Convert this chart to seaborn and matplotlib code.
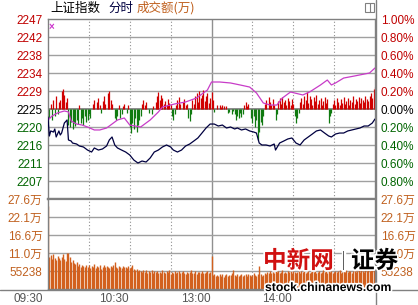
import numpy as np
import pandas as pd
import seaborn as sns
import matplotlib
matplotlib.use("Agg")
import matplotlib.pyplot as plt
from matplotlib import patheffects as pe, transforms as mtrans
from matplotlib.lines import Line2D
from matplotlib.patches import Rectangle

# ---------------- data ----------------
# index line (minute from 09:30 in trading time, % change vs. previous close)
price_min = [0, 1, 2, 4, 5, 6, 8, 9, 10, 12, 14, 15, 17, 18, 21, 23, 26, 29, 32, 34, 37, 40, 43, 45, 47,
             49, 51, 54, 57, 60, 63, 66, 69, 72, 75, 78, 81, 84, 87, 90, 92, 95, 98, 101, 104, 107, 110,
             113, 116, 119, 122, 125, 128, 131, 134, 137, 139, 142, 145, 148, 151, 153, 155, 157, 160,
             163, 166, 167, 170, 173, 176, 179, 182, 185, 188, 191, 194, 197, 200, 203, 206, 208, 211,
             214, 217, 220, 223, 226, 229, 232, 235, 238, 240]
price_pct = [-0.089, -0.300, -0.244, -0.256, -0.222, -0.311, -0.244, -0.289, -0.267, -0.156, -0.122,
             -0.344, -0.356, -0.378, -0.389, -0.411, -0.422, -0.456, -0.478, -0.433, -0.456, -0.444,
             -0.411, -0.344, -0.311, -0.400, -0.433, -0.456, -0.478, -0.511, -0.567, -0.600, -0.578,
             -0.589, -0.544, -0.478, -0.456, -0.422, -0.400, -0.422, -0.456, -0.478, -0.456, -0.411,
             -0.389, -0.356, -0.322, -0.267, -0.211, -0.167, -0.167, -0.189, -0.178, -0.211, -0.200,
             -0.222, -0.211, -0.233, -0.222, -0.244, -0.256, -0.267, -0.378, -0.400, -0.400, -0.411,
             -0.389, -0.456, -0.378, -0.356, -0.333, -0.322, -0.378, -0.400, -0.344, -0.311, -0.278,
             -0.244, -0.233, -0.267, -0.300, -0.311, -0.278, -0.267, -0.267, -0.244, -0.233, -0.222,
             -0.211, -0.189, -0.189, -0.156, -0.111]

# non-weighted index line
avg_min = [0, 3, 7, 12, 15, 17, 21, 25, 29, 34, 38, 43, 47, 51, 56, 60, 68, 75, 81, 84, 93, 101, 109,
           117, 120, 126, 134, 141, 148, 153, 158, 163, 168, 172, 178, 187, 192, 200, 205, 208, 211,
           217, 225, 236, 240]
avg_pct = [-0.122, -0.078, -0.044, -0.022, -0.033, -0.133, -0.167, -0.178, -0.200, -0.233, -0.233,
           -0.211, -0.167, -0.122, -0.100, -0.178, -0.200, -0.122, -0.033, 0.022, 0.056, 0.078, 0.122,
           0.211, 0.300, 0.300, 0.289, 0.267, 0.244, 0.178, 0.067, 0.044, 0.044, 0.122, 0.189, 0.156,
           0.189, 0.267, 0.322, 0.267, 0.289, 0.344, 0.367, 0.400, 0.456]

# buy/sell strength bars per minute (units of 0.01 %)
power = ([-16, -10, 6, -12, 10, -8, 14, -5, 8]
         + [10, 20, 22, 16, 8, 12]
         + [-18, -20, -14, -22, -16, -19, -12, -17, 5, -15, -10, -18, -8, -14, -12, -6, -10]
         + [0, 6, 10, 0, 8, 12, 4, -4, 9, 15, 6, 0, 18, 20, 10, 6, 0]
         + [-10, -12, -8, 4, -10, -6, 3]
         + [6, 0, -4, 5]
         + [-20, -27, -15, -22, -10, -25, -18, -12, -8]
         + [6, 10, 4, 8, 0]
         + [-4, 0, -5, 3, 0]
         + [8, 14, 19, 10, 16, 12, 6, 9, 4, 11, 7, 5]
         + [-8, -12, -6]
         + [5, 10, 13, 6, 0, 8, 11, 4, 6]
         + [-10, -13, -6]
         + [10, 6, 15, 18, 8, 20, 12, 16, 21, 9, 14, 18, 7, 12, 19, 10]
         + [-3, 0, 4, 0]
         + [4, 2, 5, 3, 0, 3]
         + [-4, -3, 0, -5, -2]
         + [-6, -12, -8, -10, -4, -9, -5]
         + [5, 8, 3, 6, 0]
         + [-10, -15, -8, -20, -12, -34, -25, -14, -18, -8]
         + [6, 10, 0, 13, 8, 5, 11, 4]
         + [-12, -6]
         + [9, 12, 6, 13, 8, 10, 5, 12, 9, 4, 11, 6]
         + [-8, -15, -10, -4]
         + [8, 12, 6, 15, 10, 19, 7, 14, 11, 5, 13, 9, 16, 6, 10, 12, 4, 9, 13, 7, 11]
         + [-15, -8, -4]
         + [6, 10, 5, 12, 8, 4, 11, 7, 13, 6, 9, 12, 5, 10, 8, 14, 6, 11, 9, 13, 7, 12, 10, 8, 15,
            11, 9, 14, 18, 12, 22, 24])

# turnover per minute (万 yuan)
volume = ([25.5]
          + [9.8, 10.5, 9.2, 10.8, 9.6, 8.9, 10.2, 9.4, 8.8, 9.9, 10.6, 9.1, 8.6, 10.9, 11.2, 9.7]
          + [8.4, 9.0, 8.1, 7.6, 8.3, 7.2, 7.8, 6.9, 7.5, 7.0, 6.6, 7.3]
          + [6.8, 7.4, 6.5, 7.1, 6.9, 7.6, 6.4, 7.0, 6.7, 7.3, 6.2, 6.9, 7.5, 6.6, 7.2, 6.8, 6.3, 7.0,
             6.7, 7.4, 8.3, 6.9, 6.5, 7.1, 6.8, 6.4, 7.2, 6.6, 6.9, 6.3, 7.0, 6.5, 6.8, 7.3]
          + [6.2, 5.8, 6.0, 5.4, 5.9, 5.6, 5.1, 5.7, 5.3, 5.8, 5.0, 5.5, 5.2, 5.9, 4.9, 5.4, 5.1, 5.6,
             4.8, 5.3, 5.0, 5.7, 5.2, 4.9, 5.5, 5.1, 5.8, 4.7, 5.3, 5.0, 5.4, 4.9, 5.2, 5.6, 4.8, 5.1,
             5.5, 5.0, 4.6, 5.3, 4.9, 5.2, 5.7, 4.8, 5.0, 5.4, 4.7, 5.1, 5.3, 4.9, 5.6, 5.0, 4.8, 5.2,
             5.5, 4.9, 5.1]
          + [10.1]
          + [4.2, 4.6, 3.9, 4.4, 4.1, 4.7, 4.0, 4.5, 3.8, 4.3, 4.6, 4.0, 4.4, 4.2, 4.8, 5.8, 4.3, 4.1,
             4.5, 3.9, 4.4, 4.7, 4.0, 4.3, 4.6, 4.1, 4.5, 4.2, 3.9, 4.4, 4.8, 4.3, 4.0, 4.6, 7.1, 4.5,
             4.1, 4.4, 4.9, 4.6]
          + [5.2, 4.9, 5.5, 5.0, 5.3, 4.8, 5.6, 5.1, 5.4, 4.9, 5.2, 5.7, 5.0, 5.3, 4.8, 5.5, 5.1, 5.4,
             5.0, 5.6, 5.2, 4.9, 5.3, 5.5, 5.0, 5.4, 5.1, 5.7, 4.9, 5.2, 5.5, 5.0, 5.3, 5.6, 5.1, 5.4,
             4.9, 5.2, 5.5, 5.0, 5.3, 5.7, 5.1, 5.4, 5.0, 5.6, 5.2, 5.5, 4.9, 5.3, 5.6, 5.1, 5.4, 5.8,
             5.0, 5.3, 5.5, 5.2, 5.7, 5.1, 5.4, 5.6, 5.0, 5.5, 5.8, 5.2, 5.4, 5.7, 5.3, 5.9, 5.5, 5.2,
             5.8, 5.6, 6.0, 5.4, 5.9, 6.2, 5.7, 6.5])

pct_ticks = [1.0, 0.8, 0.6, 0.4, 0.2, 0.0, -0.2, -0.4, -0.6, -0.8]
price_labels = ["2247", "2242", "2238", "2234", "2229", "2225", "2220", "2216", "2211", "2207"]
pct_labels = ["1.00%", "0.80%", "0.60%", "0.40%", "0.20%", "0.00%", "0.20%", "0.40%", "0.60%", "0.80%"]
vol_ticks = [5.5238, 11.0476, 16.5714, 22.0952, 27.619]
vol_labels = ["55238", "11.0万", "16.6万", "22.1万", "27.6万"]
time_ticks = [0, 60, 120, 180]
time_labels = ["09:30", "10:30", "13:00", "14:00"]

# ---------------- style ----------------
sns.set_theme(style="white")
plt.rcParams["font.family"] = ["Liberation Sans", "Noto Sans CJK SC", "DejaVu Sans"]

RED, GREEN, BLACK = "#c00000", "#006400", "#000000"
ORANGE = "#d2601e"
TXT_ORANGE = "#c0601e"
GRID = "#a0a0a0"
FS = 8.5

W, H = 418, 305
fig = plt.figure(figsize=(W / 100, H / 100), dpi=100)
fig.patch.set_facecolor("white")


def rect(l, t, r, b):
    return [l / W, 1 - b / H, (r - l) / W, (b - t) / H]


ax_p = fig.add_axes(rect(48, 19, 375, 199))
ax_v = fig.add_axes(rect(48, 199, 375, 289))

for ax in (ax_p, ax_v):
    ax.set_facecolor("white")
    ax.set_xlim(0, 240)
    for s in ax.spines.values():
        s.set_color("#808080")
        s.set_linewidth(1.0)
    for m in (30, 60, 90, 150, 180, 210):
        ax.axvline(m, color="#909090", lw=0.8, ls=(0, (1, 2)), zorder=0)
    ax.axvline(120, color="#909090", lw=1.0, zorder=0)

ax_p.spines["bottom"].set_linewidth(1.6)
ax_v.spines["top"].set_linewidth(1.6)

# ---- price panel ----
ax_p.set_ylim(-1.0, 1.0)
for t in pct_ticks[1:]:
    ax_p.axhline(t, color=GRID if t != 0 else "#8a8a8a", lw=1.0 if t != 0 else 1.4, zorder=0)

pw = pd.DataFrame({"minute": np.arange(len(power)), "p": np.array(power) / 100.0})
up = pw[pw.p > 0]
dn = pw[pw.p < 0]
ax_p.vlines(up.minute, 0, up.p, color="#d00000", lw=0.9, zorder=1)
ax_p.vlines(dn.minute, 0, dn.p, color="#107a10", lw=0.9, zorder=1)

df_avg = pd.DataFrame({"minute": avg_min, "pct": avg_pct})
df_px = pd.DataFrame({"minute": price_min, "pct": price_pct})
sns.lineplot(data=df_avg, x="minute", y="pct", ax=ax_p, color="#c83cc8", lw=0.9,
             estimator=None, sort=False, zorder=3)
sns.lineplot(data=df_px, x="minute", y="pct", ax=ax_p, color="#000040", lw=0.9,
             estimator=None, sort=False, zorder=4)

ax_p.set_xticks([])
ax_p.set_xlabel("")
ax_p.set_ylabel("")
ax_p.set_yticks(pct_ticks)
ax_p.set_yticklabels(price_labels, fontsize=FS)
ax_p.tick_params(axis="y", length=0, pad=4)
label_cols = [RED] * 5 + [BLACK] + [GREEN] * 4
for tl, c in zip(ax_p.get_yticklabels(), label_cols):
    tl.set_color(c)

ax_r = ax_p.twinx()
ax_r.set_ylim(-1.0, 1.0)
ax_r.set_yticks(pct_ticks)
ax_r.set_yticklabels(pct_labels, fontsize=FS)
ax_r.tick_params(axis="y", length=0, pad=4)
for s in ax_r.spines.values():
    s.set_visible(False)
for tl, c in zip(ax_r.get_yticklabels(), label_cols):
    tl.set_color(c)

# ---- volume panel ----
ax_v.set_ylim(0, 27.619)
for t in vol_ticks[:-1]:
    ax_v.axhline(t, color=GRID, lw=1.0, zorder=0)
vol_df = pd.DataFrame({"minute": np.arange(len(volume)), "vol": volume})
ax_v.vlines(vol_df.minute, 0, vol_df.vol, color=ORANGE, lw=1.0, zorder=2)
ax_v.set_yticks(vol_ticks)
ax_v.set_yticklabels(vol_labels, fontsize=FS, color=TXT_ORANGE)
ax_v.tick_params(axis="y", length=0, pad=4, labelright=True)
ax_v.set_xticks(time_ticks)
ax_v.set_xticklabels(time_labels, fontsize=FS, color="#555555", ha="right")
ax_v.tick_params(axis="x", length=0, pad=3)
for i, tl in enumerate(ax_v.get_xticklabels()):
    dx = -5 if i == 0 else -1
    tl.set_transform(tl.get_transform() + mtrans.ScaledTranslation(dx / 100, 0, fig.dpi_scale_trans))

# ---- frame lines ----
fig.add_artist(Line2D([375.5 / W, 375.5 / W], [0, 1], color="#808080", lw=1.0))
fig.add_artist(Line2D([0, 1], [1 - 289.5 / H, 1 - 289.5 / H], color="#808080", lw=1.0))
fig.add_artist(Rectangle((365 / W, 1 - 12 / H), 9 / W, 9 / H, transform=fig.transFigure,
                         fill=False, edgecolor="#808080", lw=0.8))
fig.add_artist(Line2D([369.5 / W, 369.5 / W], [1 - 12 / H, 1 - 3 / H], color="#808080", lw=0.8))

# ---- header ----
cjk = ["Noto Sans CJK SC", "DejaVu Sans"]
fig.text(50 / W, 1 - 8 / H, "上证指数", fontsize=9, color="#000000", va="center", family=cjk)
fig.text(108 / W, 1 - 8 / H, "分时", fontsize=9, color="#000040", va="center", family=cjk)
fig.text(137 / W, 1 - 8 / H, "成交额(万)", fontsize=9, color=TXT_ORANGE, va="center", family=cjk)
fig.text(51 / W, 1 - 27 / H, "×", fontsize=7, color="#cc33cc", va="center", ha="center",
         fontweight="bold")

# ---- watermark ----
halo = [pe.withStroke(linewidth=2.5, foreground="white")]
fig.text(263 / W, 1 - 261 / H, "中新网", fontsize=17, color="#d01010", va="center",
         family=cjk, fontweight="bold", path_effects=halo)
fig.text(341 / W, 1 - 261 / H, "|", fontsize=14, color="#606060", va="center",
         path_effects=halo)
fig.text(351 / W, 1 - 261 / H, "证券", fontsize=17, color="#000000", va="center",
         family=cjk, fontweight="bold", path_effects=halo)
fig.text(265 / W, 1 - 288 / H, "stock.chinanews.com", fontsize=8.8, color="#000000",
         va="center", fontweight="bold", path_effects=halo)

fig.savefig("out.png", dpi=100, facecolor="white")
